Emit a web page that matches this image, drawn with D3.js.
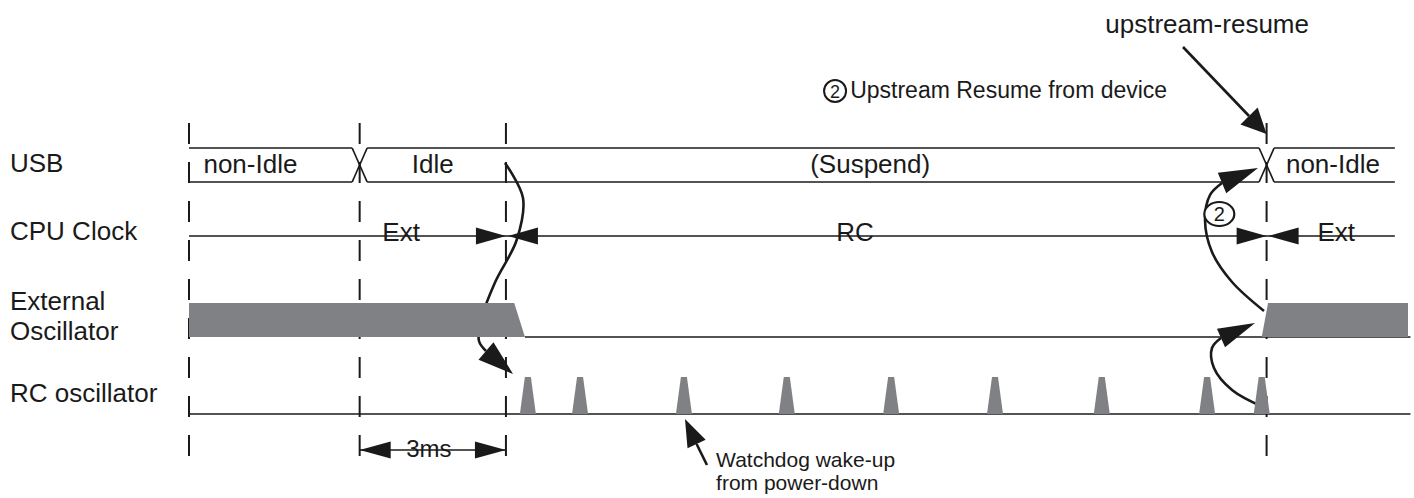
<!DOCTYPE html>
<html><head><meta charset="utf-8">
<script src="https://cdn.jsdelivr.net/npm/d3@7"></script>
<style>
html,body{margin:0;padding:0;background:#fff;}
text{font-family:"Liberation Sans", Arial, Helvetica, sans-serif; fill:#1a1a1a;}
</style>
</head><body>
<svg id="chart" width="1414" height="498"></svg>
<script>
// ---------------- data (time in ms) ----------------
const rowNames = ["USB", "CPU Clock", "External\nOscillator", "RC oscillator"];
const guideTimes = [0, 3.5, 6.5, 22.1];
const usbTransitions = [3.5, 22.1];
const usbLabels = ["non-Idle", "Idle", "(Suspend)", "non-Idle"];
const usbLabelTimes = [1.26, 5.0, 13.97, 23.46];
const cpuLabels = ["Ext", "RC", "Ext"];
const cpuLabelTimes = [4.35, 13.66, 23.53];
const cpuSwitchTimes = [6.5, 22.1];
const extOscTimes = [0, 6.67, 6.89, 22.0, 22.13, 25];
const extOscLevels = [1, 1, 0, 0, 1, 1];
const rcPulseTimes = [6.95, 8.02, 10.15, 12.26, 14.4, 16.53, 18.72, 20.88, 22.0];
const dimLabel = "3ms";
const dimTimes = [3.5, 6.5];
const notes = ["upstream-resume", "Upstream Resume from device", "Watchdog wake-up", "from power-down", "2"];

// ---------------- drawing ----------------
const svg = d3.select("#chart");
const ink = "#1a1a1a", gray = "#808184";
const x = d3.scaleLinear().domain([0, 25]).range([189, 1408]);
const endT = 24.73;

const usbTop = 148, usbBot = 182;
const cpuY = 236;
const extY = d3.scaleLinear().domain([0, 1]).range([337, 303]);
const rcBase = 414, rcTop = 377;

// row labels
const rowBase = [172, 240, 310, 402];
rowNames.forEach((n, i) => {
  const t = svg.append("text").attr("x", 10).attr("y", rowBase[i]).attr("font-size", 26);
  n.split("\n").forEach((s, j) => t.append("tspan").attr("x", 10).attr("dy", j ? 30 : 0).text(s));
});

// dashed guides
svg.append("g").selectAll("line").data(guideTimes).join("line")
  .attr("x1", d => x(d)).attr("x2", d => x(d))
  .attr("y1", 123).attr("y2", 458)
  .attr("stroke", ink).attr("stroke-width", 2).attr("stroke-dasharray", "21 18");

// USB bus
const h = 7.5;
const usbG = svg.append("g").attr("stroke", ink).attr("stroke-width", 1.7).attr("fill", "none");
const bounds = [0, ...usbTransitions, endT];
for (let i = 0; i < bounds.length - 1; i++) {
  const a = bounds[i], b = bounds[i + 1];
  const xa = x(a) + (i > 0 ? h : 0), xb = x(b) - (i < bounds.length - 2 ? h : 0);
  usbG.append("line").attr("x1", xa).attr("x2", xb).attr("y1", usbTop).attr("y2", usbTop);
  usbG.append("line").attr("x1", xa).attr("x2", xb).attr("y1", usbBot).attr("y2", usbBot);
}
usbTransitions.forEach(t => {
  usbG.append("line").attr("x1", x(t) - h).attr("y1", usbTop).attr("x2", x(t) + h).attr("y2", usbBot);
  usbG.append("line").attr("x1", x(t) - h).attr("y1", usbBot).attr("x2", x(t) + h).attr("y2", usbTop);
});
const gapPads = {2: [0, 37]};
usbLabels.forEach((s, i) => {
  const t = svg.append("text").attr("x", x(usbLabelTimes[i])).attr("y", 173)
    .attr("text-anchor", "middle").attr("font-size", 26).text(s);
  if (gapPads[i]) {
    const bb = t.node().getBBox();
    svg.insert("rect", "text").attr("x", bb.x - gapPads[i][0]).attr("y", usbBot - 3)
      .attr("width", bb.width + gapPads[i][0] + gapPads[i][1]).attr("height", 6).attr("fill", "#fff");
  }
});

// CPU clock line
svg.append("line").attr("x1", x(0)).attr("x2", x(endT)).attr("y1", cpuY).attr("y2", cpuY)
  .attr("stroke", ink).attr("stroke-width", 1.6);
const cpuPads = [[2, 14], [4, 23], [1, 15]];
cpuLabels.forEach((s, i) => {
  const t = svg.append("text").attr("x", x(cpuLabelTimes[i])).attr("y", 241)
    .attr("text-anchor", "middle").attr("font-size", 26).text(s);
  const bb = t.node().getBBox();
  svg.insert("rect", "text").attr("x", bb.x - cpuPads[i][0]).attr("y", cpuY - 3)
    .attr("width", bb.width + cpuPads[i][0] + cpuPads[i][1]).attr("height", 6).attr("fill", "#fff");
});
function tri(g, tipX, tipY, baseX, baseY, half) {
  const dx = tipX - baseX, dy = tipY - baseY, L = Math.hypot(dx, dy);
  const px = -dy / L * half, py = dx / L * half;
  g.append("path").attr("d", `M${tipX},${tipY}L${baseX + px},${baseY + py}L${baseX - px},${baseY - py}Z`)
    .attr("fill", ink).attr("stroke", "none");
}
const arrG = svg.append("g");
cpuSwitchTimes.forEach(t => {
  tri(arrG, x(t), cpuY, x(t) - 30, cpuY, 8.5);
  tri(arrG, x(t) + 2, cpuY, x(t) + 32, cpuY, 8.5);
});

// External oscillator
svg.append("line").attr("x1", x(extOscTimes[2])).attr("x2", x(25.05))
  .attr("y1", extY(0)).attr("y2", extY(0)).attr("stroke", ink).attr("stroke-width", 1.6);
const extData = extOscTimes.map((t, i) => ({t, v: extOscLevels[i]}));
svg.append("path").datum(extData)
  .attr("d", d3.area().x(d => x(d.t)).y0(extY(0)).y1(d => extY(d.v)))
  .attr("fill", gray);

// RC oscillator
svg.append("line").attr("x1", x(0)).attr("x2", x(25.05)).attr("y1", rcBase).attr("y2", rcBase)
  .attr("stroke", ink).attr("stroke-width", 1.6);
svg.append("g").selectAll("path").data(rcPulseTimes).join("path")
  .attr("d", d => `M${x(d) - 8},${rcBase}L${x(d) - 3},${rcTop}L${x(d) + 3},${rcTop}L${x(d) + 8},${rcBase}Z`)
  .attr("fill", gray);

// 3ms dimension
const dimY = 450;
svg.append("line").attr("x1", x(dimTimes[0])).attr("x2", x(dimTimes[1])).attr("y1", dimY).attr("y2", dimY)
  .attr("stroke", ink).attr("stroke-width", 1.6);
const dimT = svg.append("text").attr("x", (x(dimTimes[0]) + x(dimTimes[1])) / 2 - 4).attr("y", 457)
  .attr("text-anchor", "middle").attr("font-size", 24).text(dimLabel);
{
  const bb = dimT.node().getBBox();
  svg.insert("rect", "text").attr("x", bb.x - 2).attr("y", dimY - 3).attr("width", bb.width + 9).attr("height", 6).attr("fill", "#fff");
}
tri(arrG, x(dimTimes[0]), dimY, x(dimTimes[0]) + 31, dimY, 8.5);
tri(arrG, x(dimTimes[1]), dimY, x(dimTimes[1]) - 31, dimY, 8.5);

// curved cause/effect arrows (t in ms, y in px)
const line = d3.line().x(d => x(d[0])).y(d => d[1]).curve(d3.curveCatmullRom.alpha(0.5));
const curveArrows = [
  {pts: [[6.481,163],[6.85,198],[6.72,240],[6.28,282],[5.99,320],[5.947,341],[6.091,351]], tip: [6.645,374], half: 11.5},
  {pts: [[22.047,311],[21.391,282],[20.98,252],[20.837,220],[20.94,195],[21.186,183]], tip: [21.924,168], half: 11},
  {pts: [[22.026,407],[21.391,390],[21.021,368],[20.98,348],[21.165,338]], tip: [21.862,323], half: 10},
  {pts: [[20.386,47],[21.74,116]], tip: [22.1,134], half: 12},
  {pts: [[10.623,465],[10.41,444]], tip: [10.172,419], half: 10}
];
curveArrows.forEach(a => {
  arrG.append("path").attr("d", line(a.pts)).attr("fill", "none").attr("stroke", ink).attr("stroke-width", 2.6);
  const b = a.pts[a.pts.length - 1];
  tri(arrG, x(a.tip[0]), a.tip[1], x(b[0]), b[1], a.half);
});

// notes
svg.append("text").attr("x", x(20.88)).attr("y", 33).attr("text-anchor", "middle").attr("font-size", 26).text(notes[0]);
svg.append("circle").attr("cx", x(13.25)).attr("cy", 91).attr("r", 11).attr("fill", "none").attr("stroke", ink).attr("stroke-width", 2);
svg.append("text").attr("x", x(13.25)).attr("y", 97.5).attr("text-anchor", "middle").attr("font-size", 18).text(notes[4]);
svg.append("text").attr("x", x(13.56)).attr("y", 98).attr("font-size", 23).text(notes[1]);
svg.append("text").attr("x", x(10.81)).attr("y", 467).attr("font-size", 21).text(notes[2]);
svg.append("text").attr("x", x(10.81)).attr("y", 490).attr("font-size", 21).text(notes[3]);
svg.append("ellipse").attr("cx", x(21.13)).attr("cy", 214).attr("rx", 15).attr("ry", 12).attr("fill", "#fff").attr("stroke", ink).attr("stroke-width", 2.2);
svg.append("text").attr("x", x(21.13)).attr("y", 221).attr("text-anchor", "middle").attr("font-size", 20).text(notes[4]);
</script>
</body></html>
